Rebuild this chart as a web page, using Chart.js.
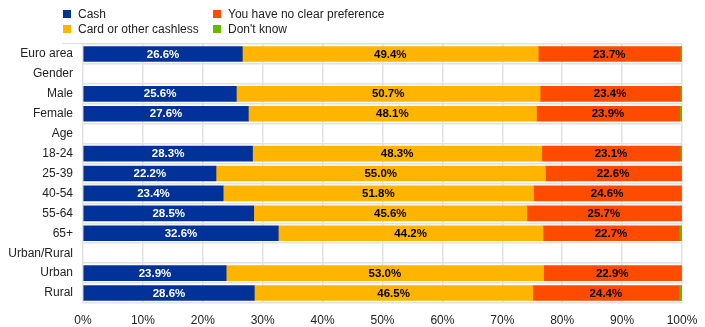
<!DOCTYPE html>
<html>
<head>
<meta charset="utf-8">
<script src="https://cdn.jsdelivr.net/npm/chart.js@4"></script>
<style>
  html, body { margin: 0; padding: 0; background: #fff; }
  #wrap { width: 705px; height: 327px; position: relative; }
</style>
</head>
<body>
<div id="wrap"><canvas id="prefChart" width="705" height="327"></canvas></div>
<script>
// categories (blank rows are group headings)
var labels = ['Euro area', 'Gender', 'Male', 'Female', 'Age', '18-24', '25-39', '40-54', '55-64', '65+', 'Urban/Rural', 'Urban', 'Rural'];

var cash       = [26.6, null, 25.6, 27.6, null, 28.3, 22.2, 23.4, 28.5, 32.6, null, 23.9, 28.6];
var cashless   = [49.4, null, 50.7, 48.1, null, 48.3, 55.0, 51.8, 45.6, 44.2, null, 53.0, 46.5];
var noPref     = [23.7, null, 23.4, 23.9, null, 23.1, 22.6, 24.6, 25.7, 22.7, null, 22.9, 24.4];
var dontKnow   = [0.3, null, 0.3, 0.4, null, 0.3, 0.2, 0.2, 0.2, 0.5, null, 0.2, 0.5];

var seriesNames = ['Cash', 'Card or other cashless', 'You have no clear preference', "Don't know"];
var xTicks = [0, 10, 20, 30, 40, 50, 60, 70, 80, 90, 100];

var colors = ['#003299', '#FFB400', '#FF4B00', '#65B800'];
var font = 'Arial, "Liberation Sans", sans-serif';

// value labels inside the segments
var barLabels = {
  id: 'barLabels',
  afterDatasetsDraw: function(chart) {
    var ctx = chart.ctx;
    ctx.save();
    ctx.font = 'bold 11.5px ' + font;
    ctx.textAlign = 'center';
    ctx.textBaseline = 'middle';
    chart.data.datasets.forEach(function(ds, i) {
      if (i > 2) return;
      var meta = chart.getDatasetMeta(i);
      meta.data.forEach(function(el, j) {
        var v = ds.data[j];
        if (v == null) return;
        ctx.fillStyle = i === 0 ? '#ffffff' : '#000000';
        ctx.fillText(v.toFixed(1) + '%', (el.x + el.base) / 2, el.y + 0.5);
      });
    });
    ctx.restore();
  }
};

// two-column legend at the top
var topLegend = {
  id: 'topLegend',
  afterDraw: function(chart) {
    var ctx = chart.ctx;
    var pos = [[63, 10], [63, 25], [213, 10], [213, 25]];
    ctx.save();
    ctx.font = '12px ' + font;
    ctx.textBaseline = 'middle';
    ctx.textAlign = 'left';
    seriesNames.forEach(function(name, i) {
      ctx.fillStyle = colors[i];
      ctx.fillRect(pos[i][0], pos[i][1], 8, 8);
      ctx.fillStyle = '#222';
      ctx.fillText(name, pos[i][0] + 15, pos[i][1] + 4.5);
    });
    ctx.strokeStyle = '#dddddd';
    ctx.lineWidth = 1;
    ctx.beginPath();
    ctx.moveTo(62, 43.5);
    ctx.lineTo(505, 43.5);
    ctx.stroke();
    ctx.restore();
  }
};

var allData = [cash, cashless, noPref, dontKnow];

new Chart(document.getElementById('prefChart').getContext('2d'), {
  type: 'bar',
  data: {
    labels: labels,
    datasets: allData.map(function(d, i) {
      return {
        label: seriesNames[i],
        data: d,
        backgroundColor: colors[i],
        borderWidth: 0,
        barThickness: 15
      };
    })
  },
  options: {
    indexAxis: 'y',
    responsive: false,
    animation: false,
    layout: { padding: { top: 44, right: 23, left: 0, bottom: 0 } },
    plugins: {
      legend: { display: false },
      tooltip: { enabled: false }
    },
    scales: {
      x: {
        stacked: true,
        min: 0,
        max: 100,
        afterBuildTicks: function(scale) {
          scale.ticks = xTicks.map(function(v) { return { value: v }; });
        },
        afterFit: function(scale) {
          scale.height = 24;
          scale.paddingLeft = 0;
          scale.paddingRight = 0;
        },
        ticks: {
          padding: 10,
          maxRotation: 0,
          color: '#222',
          font: { family: font, size: 12 },
          callback: function(v) { return v + '%'; }
        },
        grid: { color: '#e2e2e2', lineWidth: 1.5, drawTicks: false },
        border: { display: false }
      },
      y: {
        stacked: true,
        afterFit: function(scale) { scale.width = 83; },
        ticks: {
          padding: 10,
          autoSkip: false,
          color: '#222',
          font: { family: font, size: 12 }
        },
        grid: { color: '#e2e2e2', lineWidth: 1.5, drawTicks: false, offset: true },
        border: { display: false }
      }
    }
  },
  plugins: [barLabels, topLegend]
});
</script>
</body>
</html>
